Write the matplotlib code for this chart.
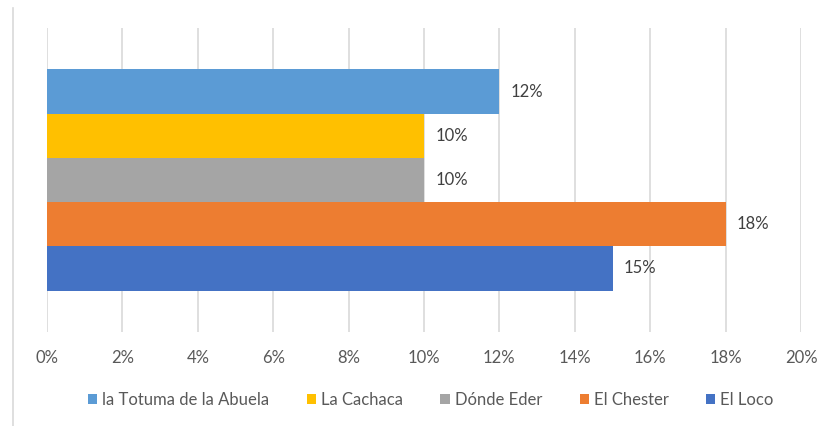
import matplotlib
matplotlib.use("Agg")
import matplotlib.pyplot as plt
from matplotlib.lines import Line2D
from matplotlib.ticker import FuncFormatter

series = ["El Loco", "El Chester", "Dónde Eder", "La Cachaca", "la Totuma de la Abuela"]
values = [15, 18, 10, 10, 12]
colors = ["#4472C4", "#ED7D31", "#A5A5A5", "#FFC000", "#5B9BD5"]
xticks = [0, 2, 4, 6, 8, 10, 12, 14, 16, 18, 20]

plt.rcParams['font.family'] = ['Lato', 'DejaVu Sans']

fig = plt.figure(figsize=(8.19, 4.26), dpi=100)
ax = fig.add_axes([47/819, 1-332/426, (801-47)/819, (332-28)/426])

h = 0.1454
n = len(series)
start = -n*h/2
for i, (s, v, c) in enumerate(zip(series, values, colors)):
    y = start + h*i + h/2
    ax.barh(y, v, height=h, color=c, label=s, zorder=3)
    ax.text(v + 0.3, y, f"{v}%", va="center", ha="left", fontsize=12, color="#404040")

ax.set_xlim(0, 20)
ax.set_ylim(-0.5, 0.5)
ax.set_xticks(xticks)
ax.xaxis.set_major_formatter(FuncFormatter(lambda x, p: f"{int(x)}%"))
ax.set_yticks([])
ax.grid(axis="x", color="#D9D9D9", linewidth=1.2, zorder=0)
for sp in ax.spines.values():
    sp.set_visible(False)
ax.tick_params(axis="x", length=0, pad=13, labelsize=12, labelcolor="#595959")

# left border of chart area
fig.add_artist(Line2D([13/819, 13/819], [0, 1-8/426], transform=fig.transFigure,
                      color="#D9D9D9", linewidth=1.2))

handles, labels = ax.get_legend_handles_labels()
leg = fig.legend(handles[::-1], labels[::-1], loc="center", bbox_to_anchor=(0.526, 1-400/426),
                 ncol=5, frameon=False, fontsize=12, handlelength=0.55, handleheight=0.55,
                 handletextpad=0.3, columnspacing=2.25, labelcolor="#595959")

fig.savefig("out.png", dpi=100, facecolor="white")
